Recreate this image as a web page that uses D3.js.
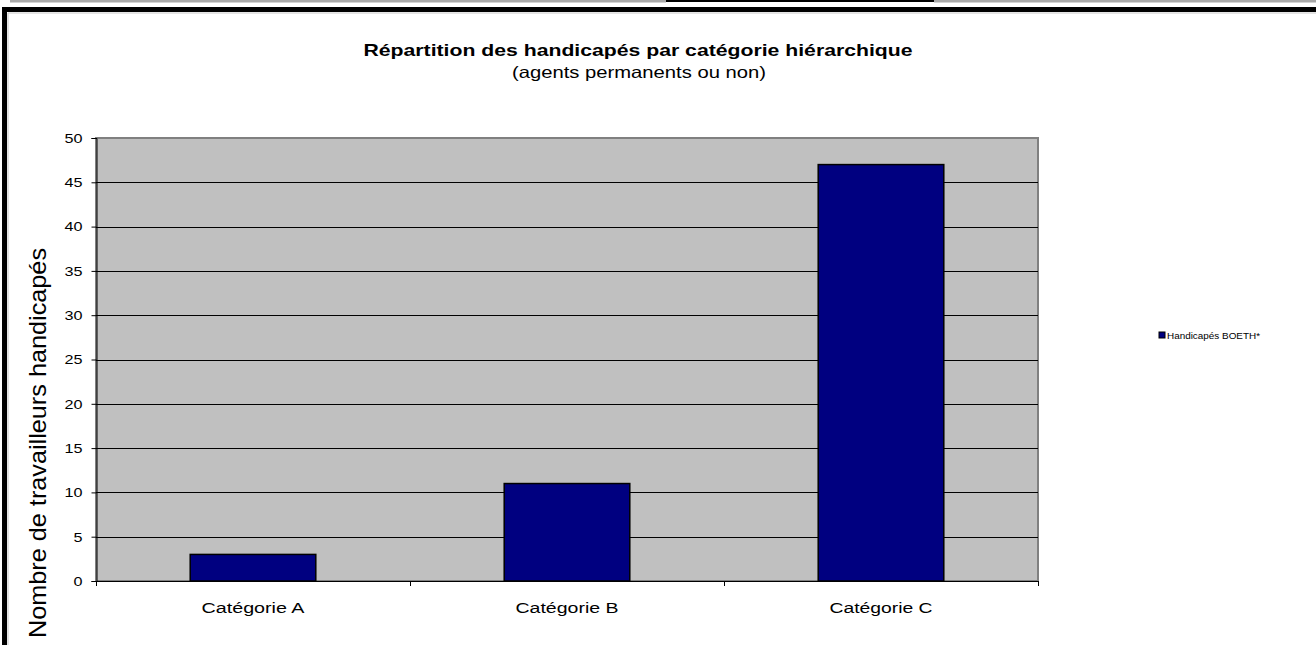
<!DOCTYPE html>
<html>
<head>
<meta charset="utf-8">
<script src="https://cdn.jsdelivr.net/npm/d3@7"></script>
<style>
  body { margin: 0; background: #fff; }
  text { font-family: "Liberation Sans", Arial, sans-serif; }
</style>
</head>
<body>
<div id="canvas"></div>
<script>
(function (d3) {
  // chart data
  var categories = ['Catégorie A', 'Catégorie B', 'Catégorie C'];
  var values = [3, 11, 47];
  var seriesName = 'Handicapés BOETH*';
  var yTicks = [0, 5, 10, 15, 20, 25, 30, 35, 40, 45, 50];
  var title = 'Répartition des handicapés par catégorie hiérarchique';
  var subtitle = '(agents permanents ou non)';
  var yTitle = 'Nombre de travailleurs  handicapés';

  var W = 1316, H = 645;
  var plot = { left: 96, right: 1038, top: 138, bottom: 581 };
  var barColor = '#000080';

  var svg, x, y;

  init();

  function init () {
    createSvg();
    drawFrame();
    createScales();
    drawPlotArea();
    drawBars();
    drawAxes();
    drawTitles();
    drawLegend();
  }

  function createSvg () {
    svg = d3.select('#canvas')
      .append('svg')
      .attr('width', W)
      .attr('height', H);
  }

  // page decoration round the chart (table borders of the source document)
  function drawFrame () {
    svg.append('rect').attr('x', 10).attr('y', 0).attr('width', 656).attr('height', 2.5).attr('fill', '#a8a8a8');
    svg.append('rect').attr('x', 666).attr('y', 0).attr('width', 268).attr('height', 2).attr('fill', '#000');
    svg.append('rect').attr('x', 934).attr('y', 0).attr('width', W - 934).attr('height', 2.5).attr('fill', '#a8a8a8');
    svg.append('rect').attr('x', 2).attr('y', 7).attr('width', W).attr('height', 5).attr('fill', '#000');
    svg.append('rect').attr('x', 2).attr('y', 7).attr('width', 5).attr('height', H).attr('fill', '#000');
    svg.append('line').attr('x1', 8).attr('x2', W).attr('y1', 13).attr('y2', 13).attr('stroke', '#c8c8c8');
    svg.append('line').attr('x1', 8).attr('x2', 8).attr('y1', 13).attr('y2', H).attr('stroke', '#c8c8c8');
  }

  function createScales () {
    x = d3.scaleBand()
      .domain(categories)
      .range([plot.left, plot.right])
      .paddingInner(0.6)
      .paddingOuter(0.3);
    y = d3.scaleLinear()
      .domain([0, 50])
      .range([plot.bottom, plot.top]);
  }

  function drawPlotArea () {
    svg.append('rect')
      .attr('x', plot.left)
      .attr('y', plot.top)
      .attr('width', plot.right - plot.left)
      .attr('height', plot.bottom - plot.top)
      .attr('fill', '#c0c0c0')
      .attr('stroke', '#808080')
      .attr('stroke-width', 2);

    svg.append('g')
      .selectAll('line')
      .data(yTicks.slice(1, -1))
      .enter()
      .append('line')
      .attr('x1', plot.left)
      .attr('x2', plot.right)
      .attr('y1', function (d) { return Math.round(y(d)) + 0.5; })
      .attr('y2', function (d) { return Math.round(y(d)) + 0.5; })
      .attr('stroke', '#000')
      .attr('stroke-width', 1);
  }

  function drawBars () {
    svg.append('g')
      .selectAll('rect')
      .data(values)
      .enter()
      .append('rect')
      .attr('x', function (d, i) { return x(categories[i]); })
      .attr('y', function (d) { return y(d); })
      .attr('width', x.bandwidth())
      .attr('height', function (d) { return y(0) - y(d); })
      .attr('fill', barColor)
      .attr('stroke', '#000')
      .attr('stroke-width', 1.5);
  }

  function drawAxes () {
    var yAxis = d3.axisLeft(y)
      .tickValues(yTicks)
      .tickSize(5)
      .tickPadding(9);
    var gy = svg.append('g')
      .attr('transform', 'translate(' + (plot.left + 0.5) + ',0)')
      .call(yAxis);
    gy.select('.domain').attr('stroke', '#000');
    gy.selectAll('.tick line').attr('stroke', '#000');
    gy.selectAll('.tick text')
      .style('font-size', '13.5px')
      .attr('fill', '#000')
      .attr('textLength', function (d) { return String(d).length * 9; })
      .attr('lengthAdjust', 'spacingAndGlyphs');

    // category separators below the x axis
    var step = x.step();
    var seps = d3.range(categories.length + 1).map(function (i) { return plot.left + i * step; });
    svg.append('line')
      .attr('x1', plot.left).attr('x2', plot.right)
      .attr('y1', plot.bottom + 0.5).attr('y2', plot.bottom + 0.5)
      .attr('stroke', '#000');
    svg.append('g')
      .selectAll('line')
      .data(seps)
      .enter()
      .append('line')
      .attr('x1', function (d) { return Math.round(d) + 0.5; })
      .attr('x2', function (d) { return Math.round(d) + 0.5; })
      .attr('y1', plot.bottom)
      .attr('y2', plot.bottom + 5)
      .attr('stroke', '#000');

    svg.append('g')
      .selectAll('text')
      .data(categories)
      .enter()
      .append('text')
      .attr('x', function (d) { return x(d) + x.bandwidth() / 2; })
      .attr('y', 613)
      .attr('text-anchor', 'middle')
      .style('font-size', '15.5px')
      .attr('textLength', 103)
      .attr('lengthAdjust', 'spacingAndGlyphs')
      .text(function (d) { return d; });

    svg.append('text')
      .attr('transform', 'translate(46,' + 443 + ') rotate(-90)')
      .attr('text-anchor', 'middle')
      .style('font-size', '24px')
      .attr('textLength', 390)
      .attr('lengthAdjust', 'spacingAndGlyphs')
      .text(yTitle);
  }

  function drawTitles () {
    svg.append('text')
      .attr('x', 638)
      .attr('y', 56)
      .attr('text-anchor', 'middle')
      .style('font-size', '16.5px')
      .style('font-weight', 'bold')
      .attr('textLength', 549)
      .attr('lengthAdjust', 'spacingAndGlyphs')
      .text(title);
    svg.append('text')
      .attr('x', 639)
      .attr('y', 78)
      .attr('text-anchor', 'middle')
      .style('font-size', '16.5px')
      .attr('textLength', 254)
      .attr('lengthAdjust', 'spacingAndGlyphs')
      .text(subtitle);
  }

  function drawLegend () {
    var g = svg.append('g').attr('transform', 'translate(1159,332)');
    g.append('rect')
      .attr('width', 6).attr('height', 6)
      .attr('fill', barColor)
      .attr('stroke', '#000')
      .attr('stroke-width', 1);
    g.append('text')
      .attr('x', 8)
      .attr('y', 7)
      .style('font-size', '9px')
      .attr('textLength', 93)
      .attr('lengthAdjust', 'spacingAndGlyphs')
      .text(seriesName);
  }
})(window.d3);
</script>
</body>
</html>
